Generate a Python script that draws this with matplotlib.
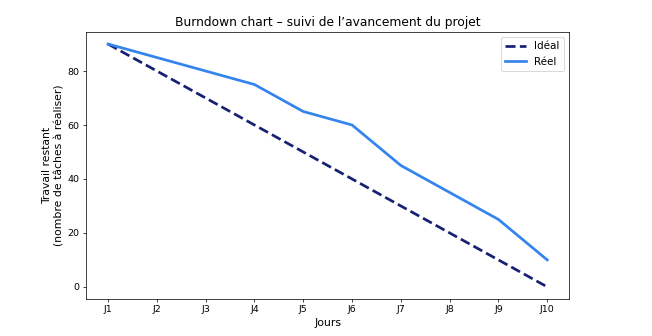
import matplotlib
matplotlib.use("Agg")
import matplotlib.pyplot as plt
import numpy as np

jours = ["J1", "J2", "J3", "J4", "J5", "J6", "J7", "J8", "J9", "J10"]
ideal = [90, 80, 70, 60, 50, 40, 30, 20, 10, 0]
reel = [90, 85, 80, 75, 65, 60, 45, 35, 25, 10]

# drawn at 10 in wide, saved at a lower dpi to get 652x336
fig = plt.figure(figsize=(10, 5.154))
ax = fig.add_axes([0.132, 0.110, 0.741, 0.795])

x = np.arange(len(jours))
ax.plot(x, ideal, linestyle="--", color="#172072", linewidth=3, label="Idéal")
ax.plot(x, reel, color="#3584ee", linewidth=3, label="Réel")

ax.set_xticks(x)
ax.set_xticklabels(jours)
ax.tick_params(labelsize=10.5)
ax.set_xlabel("Jours", fontsize=12)
ax.set_ylabel("Travail restant\n(nombre de tâches à réaliser)", fontsize=12)
ax.set_title("Burndown chart – suivi de l’avancement du projet", fontsize=13.5)
ax.legend(loc="upper right", fontsize=11.5)

fig.savefig("out.png", dpi=65.2)
